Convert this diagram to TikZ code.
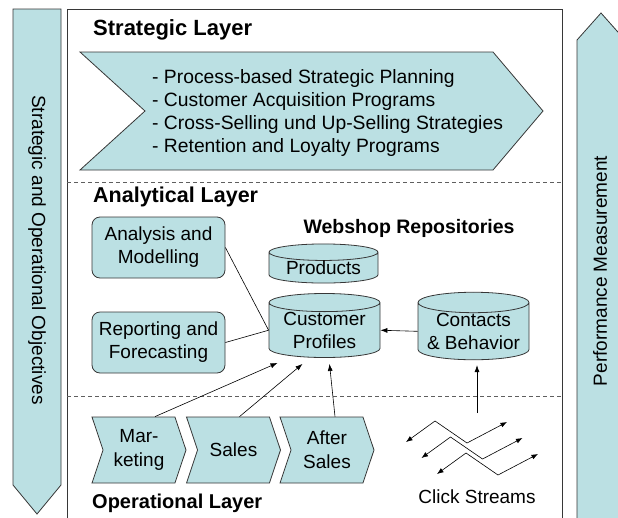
\documentclass[tikz,border=0pt]{standalone}
\usepackage{fontspec}
\setmainfont{Liberation Sans}
\usetikzlibrary{arrows.meta,shapes.geometric,shapes.symbols,calc}
\definecolor{paleteal}{RGB}{187,224,227}
\definecolor{rim}{RGB}{55,55,55}
\newcommand{\txt}{\fontsize{19}{23}\selectfont}
\newcommand{\ttl}[1]{\fontsize{#1}{25}\selectfont\bfseries}
\tikzset{
  band/.style={draw=rim, fill=paleteal, line width=0.8pt},
  module/.style={band, rounded corners=8pt, minimum width=133pt, minimum height=61pt, align=center, font=\txt},
  repo/.style={band, cylinder, shape border rotate=90, aspect=0.22, minimum width=111pt, minimum height=63pt, align=center, font=\txt, inner sep=0pt, anchor=shape center},
  stage/.style={band, signal, signal from=west, signal to=east, signal pointer angle=143, minimum width=94pt, minimum height=66pt, align=center, font=\fontsize{19}{24}\selectfont, inner sep=0pt},
  layer/.style={anchor=west, inner sep=0pt, font=\ttl{#1}},
  link/.style={draw=black, line width=0.6pt},
  flow/.style={link, -{Latex[length=7pt,width=5pt]}},
  twoway/.style={link, {Latex[length=6.5pt,width=5pt]}-{Latex[length=6.5pt,width=5pt]}},
  divider/.style={draw=rim!80, line width=0.7pt, dash pattern=on 4pt off 3pt},
}

\begin{document}
\begin{tikzpicture}[x=1pt,y=-1pt]
\useasboundingbox (0,0) rectangle (618,517);

%objectives band (left) and measurement band (right)
\draw[band] (13,9) -- (61,9) -- (61,485) -- (37,514) -- (13,485) -- cycle;
\node[rotate=-90, font=\txt] (obj) at (37,250) {Strategic and Operational Objectives};
\draw[band] (577,530) -- (577,40) -- (601,13) -- (625,40) -- (625,530);
\node[rotate=90, font=\txt] (perf) at (600,271) {Performance Measurement};

%main frame and layer dividers
\draw[rim, line width=0.8pt] (67,530) -- (67,9) -- (562,9) -- (562,530);
\draw[divider] (67,182) -- (562,182);
\draw[divider] (67,396) -- (562,396);

%strategic layer
\node[layer=22] (sl) at (93,30) {Strategic Layer};
\draw[band] (80,52) -- (493,52) -- (543,111) -- (493,170) -- (80,170) -- (145,111) -- cycle;
\node[anchor=west, align=left, inner sep=0pt, font=\fontsize{19.3}{23}\selectfont] (plan) at (152,113) {- Process-based Strategic Planning\\- Customer Acquisition Programs\\- Cross-Selling und Up-Selling Strategies\\- Retention and Loyalty Programs};

%analytical layer
\node[layer=21.5] (al) at (93,197) {Analytical Layer};
\node[module] (am) at (158.5,247.5) {Analysis and\\Modelling};
\node[module] (rf) at (158.5,342.5) {Reporting and\\Forecasting};
\node[font=\fontsize{19.5}{23}\selectfont\bfseries] (web) at (409,228) {Webshop Repositories};
\node[repo, minimum height=39pt, minimum width=109pt] (pr) at (323.5,263.5) {Products};
\node[repo] (cp) at (324.5,325.5) {Customer\\Profiles};
\node[repo] (cb) at (473.5,326) {Contacts\\\& Behavior};

%operational layer
\node[stage] (mk) at (139,450) {Mar-\\keting};
\node[stage] (sa) at (233.5,450) {Sales};
\node[stage] (af) at (327,450) {After\\Sales};
\node[layer=20] (ol) at (92,503) {Operational Layer};

%click streams
\foreach \k in {0,1,2}
  \draw[twoway, shift={(\k*15.5,\k*16)}] (406,442) -- (435,421) -- (467,443) -- (507,422);
\node[font=\txt] (cs) at (477,497) {Click Streams};
\coordinate (clk) at (477,413);

%connectors
\draw[link] (am.east) -- (cp.west);
\draw[link] (rf.east) -- (cp.west);
\draw[flow] (cb.west) -- (cp.east);
\draw[flow, shorten >=5pt] (clk) -- (clk |- cb.south);
\draw[flow] ([xshift=16pt]mk.north) -- ($(cp.south)+(-47,5)$);
\draw[flow] ([xshift=6pt]sa.north) -- ($(cp.south)+(-22,6)$);
\draw[flow] ([xshift=8pt]af.north) -- ($(cp.south)+(5,6)$);
\end{tikzpicture}
\end{document}
